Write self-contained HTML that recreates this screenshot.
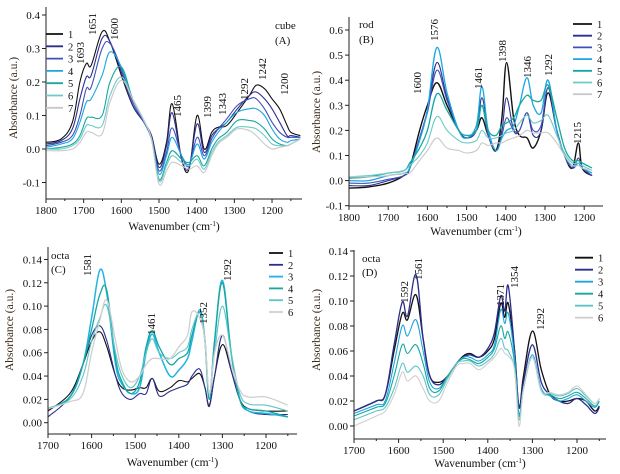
<!DOCTYPE html>
<html><head><meta charset="utf-8">
<style>
html,body{margin:0;padding:0;background:#fff;}
svg{display:block;font-family:"Liberation Serif",serif;}
</style></head>
<body>
<svg id="fig" width="620" height="474" viewBox="0 0 620 474" xmlns="http://www.w3.org/2000/svg"></svg>
<script>
// ---- Panel A (cube) data ----
const aWave=[1800,1760,1730,1710,1693,1680,1651,1630,1600,1570,1540,1520,1500,1480,1465,1440,1420,1399,1380,1360,1343,1320,1292,1260,1242,1220,1200,1180,1160,1150,1125];
const aS1=[0.02,0.03,0.08,0.2,0.255,0.25,0.35,0.32,0.22,0.13,0.08,0.04,-0.045,0.02,0.135,-0.03,-0.06,0.1,0.0,0.05,0.065,0.07,0.11,0.16,0.19,0.18,0.15,0.12,0.07,0.05,0.04];
const aS2=[0.015,0.025,0.06,0.15,0.215,0.22,0.33,0.32,0.23,0.13,0.08,0.04,-0.055,0.01,0.108,-0.03,-0.055,0.075,-0.01,0.04,0.06,0.08,0.12,0.16,0.17,0.15,0.12,0.08,0.04,0.04,0.035];
const aS3=[0.01,0.02,0.04,0.1,0.18,0.185,0.3,0.315,0.24,0.14,0.08,0.03,-0.065,-0.01,0.063,-0.02,-0.05,0.035,-0.02,0.03,0.06,0.09,0.13,0.15,0.15,0.12,0.08,0.05,0.035,0.035,0.035];
const aS4=[0.005,0.015,0.03,0.08,0.14,0.15,0.22,0.29,0.245,0.15,0.085,0.03,-0.075,-0.02,0.035,-0.02,-0.045,0.015,-0.03,0.02,0.05,0.08,0.11,0.12,0.12,0.1,0.06,0.03,0.02,0.025,0.03];
const aS5=[0.0,0.005,0.015,0.04,0.09,0.095,0.1,0.2,0.245,0.15,0.085,0.03,-0.09,-0.04,-0.005,-0.03,-0.04,-0.02,-0.05,0.0,0.03,0.05,0.085,0.085,0.08,0.06,0.03,0.015,0.01,0.015,0.03];
const aS6=[0.0,0.0,0.01,0.03,0.07,0.07,0.07,0.16,0.215,0.15,0.085,0.03,-0.095,-0.05,-0.02,-0.04,-0.05,-0.03,-0.06,-0.01,0.02,0.04,0.065,0.065,0.06,0.04,0.015,0.01,0.01,0.015,0.03];
const aS7=[-0.005,-0.005,0.0,0.02,0.05,0.05,0.045,0.14,0.205,0.15,0.085,0.03,-0.105,-0.065,-0.04,-0.05,-0.06,-0.05,-0.07,-0.02,0.015,0.035,0.06,0.055,0.04,0.015,0.0,0.005,0.01,0.015,0.03];
// ---- Panel B (rod) data ----
const bWave=[1800,1750,1700,1660,1645,1620,1600,1576,1550,1520,1500,1475,1461,1445,1425,1410,1398,1380,1365,1346,1330,1310,1292,1270,1250,1230,1215,1205,1180,1150];
const bS1=[-0.03,-0.025,-0.01,0.02,0.05,0.2,0.3,0.39,0.3,0.2,0.17,0.2,0.25,0.18,0.12,0.25,0.47,0.25,0.18,0.17,0.13,0.2,0.35,0.2,0.1,0.05,0.15,0.05,0.02,-0.01];
const bS2=[-0.02,-0.02,0.0,0.02,0.05,0.17,0.28,0.47,0.33,0.2,0.17,0.2,0.33,0.2,0.12,0.2,0.33,0.2,0.2,0.27,0.18,0.2,0.37,0.2,0.1,0.05,0.09,0.05,0.02,-0.005];
const bS3=[-0.01,-0.01,0.005,0.02,0.05,0.17,0.27,0.44,0.32,0.2,0.17,0.2,0.3,0.18,0.12,0.18,0.25,0.2,0.2,0.27,0.2,0.22,0.37,0.2,0.1,0.05,0.07,0.05,0.02,0.0];
const bS4=[0.0,0.0,0.02,0.03,0.05,0.16,0.28,0.53,0.35,0.2,0.17,0.22,0.375,0.2,0.12,0.17,0.2,0.22,0.3,0.41,0.3,0.27,0.4,0.2,0.1,0.06,0.07,0.05,0.03,0.02];
const bS5=[0.01,0.015,0.03,0.04,0.07,0.13,0.2,0.345,0.28,0.2,0.18,0.2,0.3,0.2,0.18,0.22,0.23,0.25,0.3,0.34,0.32,0.32,0.38,0.25,0.13,0.08,0.08,0.07,0.05,0.035];
const bS6=[0.015,0.02,0.03,0.04,0.06,0.1,0.15,0.255,0.2,0.16,0.15,0.16,0.2,0.17,0.17,0.18,0.19,0.2,0.23,0.26,0.23,0.24,0.26,0.18,0.11,0.07,0.07,0.06,0.04,0.03];
const bS7=[0.015,0.015,0.02,0.03,0.03,0.08,0.12,0.17,0.13,0.12,0.11,0.12,0.15,0.14,0.15,0.15,0.16,0.17,0.18,0.2,0.19,0.19,0.19,0.15,0.1,0.06,0.06,0.05,0.04,0.03];
// ---- Panel C (octa) data ----
const cWave=[1700,1650,1620,1600,1581,1565,1545,1530,1510,1490,1475,1461,1445,1420,1400,1380,1370,1352,1340,1330,1318,1300,1280,1260,1240,1200,1150];
const cS1=[0.01,0.025,0.05,0.07,0.078,0.065,0.04,0.03,0.028,0.03,0.03,0.038,0.027,0.03,0.036,0.035,0.038,0.042,0.03,0.015,0.04,0.067,0.045,0.02,0.012,0.01,0.01];
const cS2=[0.005,0.022,0.05,0.075,0.083,0.07,0.04,0.025,0.02,0.025,0.025,0.038,0.023,0.027,0.03,0.033,0.04,0.046,0.03,0.014,0.04,0.075,0.045,0.02,0.01,0.007,0.007];
const cS3=[0.012,0.022,0.05,0.09,0.131,0.11,0.05,0.033,0.025,0.03,0.06,0.076,0.06,0.04,0.045,0.055,0.07,0.097,0.07,0.02,0.07,0.122,0.06,0.02,0.01,0.008,0.005];
const cS4=[0.012,0.022,0.05,0.08,0.11,0.113,0.055,0.035,0.025,0.035,0.065,0.079,0.065,0.05,0.055,0.06,0.075,0.095,0.07,0.02,0.07,0.12,0.06,0.02,0.012,0.01,0.005];
const cS5=[0.012,0.02,0.04,0.07,0.09,0.1,0.06,0.04,0.03,0.04,0.06,0.072,0.06,0.055,0.06,0.065,0.08,0.094,0.07,0.025,0.06,0.1,0.06,0.025,0.016,0.015,0.01];
const cS6=[0.012,0.018,0.025,0.06,0.088,0.105,0.07,0.045,0.035,0.04,0.05,0.055,0.055,0.055,0.065,0.075,0.095,0.09,0.07,0.025,0.06,0.075,0.05,0.028,0.022,0.022,0.015];
// ---- Panel D (octa) data ----
const dWave=[1700,1650,1630,1610,1592,1580,1561,1545,1530,1510,1490,1470,1455,1440,1420,1400,1385,1371,1362,1354,1340,1330,1320,1300,1280,1260,1240,1220,1200,1180,1160,1150];
const dS1=[0.012,0.02,0.025,0.06,0.09,0.085,0.105,0.07,0.04,0.035,0.04,0.05,0.056,0.058,0.055,0.06,0.07,0.098,0.087,0.098,0.06,0.015,0.04,0.076,0.045,0.025,0.02,0.02,0.022,0.02,0.012,0.016];
const dS2=[0.012,0.02,0.025,0.065,0.099,0.088,0.121,0.07,0.04,0.033,0.04,0.05,0.055,0.057,0.055,0.062,0.075,0.104,0.092,0.112,0.06,0.015,0.035,0.065,0.035,0.025,0.02,0.018,0.022,0.017,0.01,0.015];
const dS3=[0.01,0.017,0.02,0.05,0.08,0.072,0.085,0.06,0.035,0.03,0.04,0.05,0.055,0.055,0.052,0.057,0.065,0.093,0.082,0.09,0.055,0.01,0.03,0.057,0.03,0.024,0.02,0.022,0.025,0.02,0.015,0.02];
const dS4=[0.008,0.015,0.018,0.04,0.065,0.058,0.065,0.05,0.03,0.028,0.04,0.05,0.054,0.053,0.05,0.055,0.062,0.08,0.07,0.075,0.05,0.008,0.03,0.055,0.028,0.025,0.022,0.024,0.027,0.022,0.016,0.02];
const dS5=[0.005,0.012,0.015,0.03,0.05,0.043,0.048,0.04,0.025,0.025,0.038,0.05,0.052,0.052,0.048,0.052,0.058,0.07,0.062,0.06,0.045,0.005,0.03,0.055,0.028,0.026,0.024,0.026,0.03,0.024,0.018,0.022];
const dS6=[0.0,0.008,0.012,0.025,0.043,0.036,0.04,0.03,0.02,0.02,0.035,0.048,0.05,0.05,0.045,0.05,0.055,0.062,0.058,0.056,0.045,0.0,0.03,0.055,0.028,0.027,0.025,0.027,0.032,0.025,0.018,0.022];
// tick labels
const xTicksA=[1800,1700,1600,1500,1400,1300,1200];
const xTicksC=[1700,1600,1500,1400,1300,1200];
const yTicksA=[-0.1,0.0,0.1,0.2,0.3,0.4];
const yTicksB=[-0.1,0.0,0.1,0.2,0.3,0.4,0.5,0.6];
const yTicksC=[0.00,0.02,0.04,0.06,0.08,0.10,0.12,0.14];

const NS="http://www.w3.org/2000/svg";
const svg=document.getElementById('fig');
function mk(tag,attrs,parent){const e=document.createElementNS(NS,tag);for(const k in attrs)e.setAttribute(k,attrs[k]);(parent||svg).appendChild(e);return e;}
function curve(pts){let d='M'+pts[0][0].toFixed(1)+','+pts[0][1].toFixed(1);
 for(let i=0;i<pts.length-1;i++){const p0=pts[Math.max(0,i-1)],p1=pts[i],p2=pts[i+1],p3=pts[Math.min(pts.length-1,i+2)];
  const t=0.18;const c1=[p1[0]+(p2[0]-p0[0])*t,p1[1]+(p2[1]-p0[1])*t],c2=[p2[0]-(p3[0]-p1[0])*t,p2[1]-(p3[1]-p1[1])*t];
  d+='C'+c1[0].toFixed(1)+','+c1[1].toFixed(1)+' '+c2[0].toFixed(1)+','+c2[1].toFixed(1)+' '+p2[0].toFixed(1)+','+p2[1].toFixed(1);}
 return d;}

function panel(cfg){
 const g=mk('g',{});
 
 
 const X=w=>cfg.x0+(cfg.w0-w)*cfg.px100/100;
 const Y=v=>cfg.yZero-v*cfg.pyUnit;
 cfg.series.forEach((s,i)=>{
  const pts=cfg.wave.map((w,j)=>[X(w),Y(s[j])]).filter(p=>p[0]<=cfg.right+0.5);
  const p=mk('path',{d:curve(pts),fill:'none',stroke:cfg.colors[i],'stroke-width':cfg.widths?cfg.widths[i]:1.1},g);
  
  
 });
 const ax=mk('path',{d:`M${cfg.x0},${cfg.top}V${cfg.bottom}H${cfg.right}`,fill:'none',stroke:'#222','stroke-width':1},g);
 
 
 cfg.xt.forEach(t=>{const x=X(t);mk('line',{x1:x,x2:x,y1:cfg.bottom,y2:cfg.bottom+4,stroke:'#222'},g);
  const m=X(t-50);if(m<=cfg.right)mk('line',{x1:m,x2:m,y1:cfg.bottom,y2:cfg.bottom+2,stroke:'#222'},g);
  const tx=mk('text',{x:x,y:cfg.bottom+15,'font-size':11,'text-anchor':'middle',fill:'#111'},g);tx.textContent=t;
  
  });
 cfg.yt.forEach(t=>{const y=Y(t);mk('line',{x1:cfg.x0-4,x2:cfg.x0,y1:y,y2:y,stroke:'#222'},g);
  const tx=mk('text',{x:cfg.x0-6,y:y+4,'font-size':11,'text-anchor':'end',fill:'#111'},g);tx.textContent=t.toFixed(cfg.dec);
  
  });
 const xt=mk('text',{x:(cfg.x0+cfg.right)/2,y:cfg.xtY,'font-size':11.5,'text-anchor':'middle',fill:'#111'},g);
 xt.innerHTML='Wavenumber (cm<tspan dy="-4" font-size="7">-1</tspan><tspan dy="4">)</tspan>';
 
 
 const yt=mk('text',{x:0,y:0,transform:`translate(${cfg.ytX},${cfg.ytY}) rotate(-90)`,'font-size':11.5,'text-anchor':'middle',fill:'#3a2a1a'},g);
 yt.textContent='Absorbance (a.u.)';
 
 
 cfg.colors.forEach((c,i)=>{const y=cfg.lg[1]+i*cfg.lg[3];
  const l=mk('line',{x1:cfg.lg[0],x2:cfg.lg[0]+cfg.lg[2],y1:y,y2:y,stroke:c,'stroke-width':1.8},g);
  
  
  const t=mk('text',{x:cfg.lg[0]+cfg.lg[2]+5,y:y+4,'font-size':10.5,fill:'#111'},g);t.textContent=i+1;
  
  });
 cfg.title.forEach(tt=>{const t=mk('text',{x:tt[1],y:tt[2],'font-size':11,fill:'#111'},g);t.textContent=tt[0];
  
  });
 cfg.ann.forEach(a=>{const t=mk('text',{x:0,y:0,transform:`translate(${a[1]+4},${a[2]}) rotate(-90)`,'font-size':11,fill:'#111'},g);t.textContent=a[0];
  
  });
}
const col7=['#111111','#2b2f8c','#3f50b8','#1ba6e0','#16a7a0','#6ccac8','#c9c9c9'];
panel({name:'panel-a-cube',tag:'a',x0:46,w0:1800,px100:37.67,right:302,top:7,bottom:199,yZero:149,pyUnit:335,
 wave:aWave,series:[aS1,aS2,aS3,aS4,aS5,aS6,aS7],colors:col7,xt:xTicksA,yt:yTicksA,dec:1,
 xtY:230,ytX:17,ytY:98,lg:[46,34,17,12.3],title:[['cube',275,29],['(A)',275,44]],
 ann:[['1693',80,64],['1651',92,35],['1600',114,40],['1465',177,117],['1399',207,118],['1343',222,115],['1292',244,100],['1242',262,80],['1200',284,95]]});
panel({name:'panel-b-rod',tag:'b',x0:349,w0:1800,px100:39.2,right:603,top:17,bottom:206,yZero:180.6,pyUnit:251,
 wave:bWave,series:[bS1,bS2,bS3,bS4,bS5,bS6,bS7],colors:col7,widths:[1.4,1.1,1.1,1.3,1.3,1.1,1.1],xt:xTicksA,yt:yTicksB,dec:1,
 xtY:235,ytX:320,ytY:112,lg:[573,24,19,11.7],title:[['rod',359,28],['(B)',359,43]],
 ann:[['1600',417,94],['1576',434,41],['1461',478,89],['1398',502,62],['1346',527,78],['1292',548,76],['1215',577,144]]});
const col6c=['#111111','#2b2f8c','#1fb4e2','#16a7a0','#5cc6c4','#cfcfcf'];
panel({name:'panel-c-octa',tag:'c',x0:48,w0:1700,px100:43.6,right:297,top:247,bottom:434,yZero:422.7,pyUnit:1166,
 wave:cWave,series:[cS1,cS2,cS3,cS4,cS5,cS6],colors:col6c,widths:[1.1,1.1,1.5,1.3,1.1,1.3],xt:xTicksC,yt:yTicksC,dec:2,
 xtY:466,ytX:13,ytY:330,lg:[269,253,14,11.8],title:[['octa',51,259],['(C)',51,273]],
 ann:[['1581',87,276],['1461',151,335],['1352',203,324],['1292',227,281]]});
const col6d=['#111111','#2b2f8c','#1ba6e0','#16a7a0','#5cc6c4','#cfcfcf'];
panel({name:'panel-d-octa',tag:'d',x0:354,w0:1700,px100:44.6,right:606,top:250,bottom:439,yZero:426,pyUnit:1250,
 wave:dWave,series:[dS1,dS2,dS3,dS4,dS5,dS6],colors:col6d,widths:[1.3,1.3,1.1,1.1,1.1,1.1],xt:xTicksC,yt:yTicksC,dec:2,
 xtY:467,ytX:320,ytY:330,lg:[575,257.7,18,12],title:[['octa',362,262],['(D)',362,276]],
 ann:[['1592',404,303],['1561',418,280],['1371',500,306],['1354',514,288],['1292',540,330]]});
</script>
</body></html>
